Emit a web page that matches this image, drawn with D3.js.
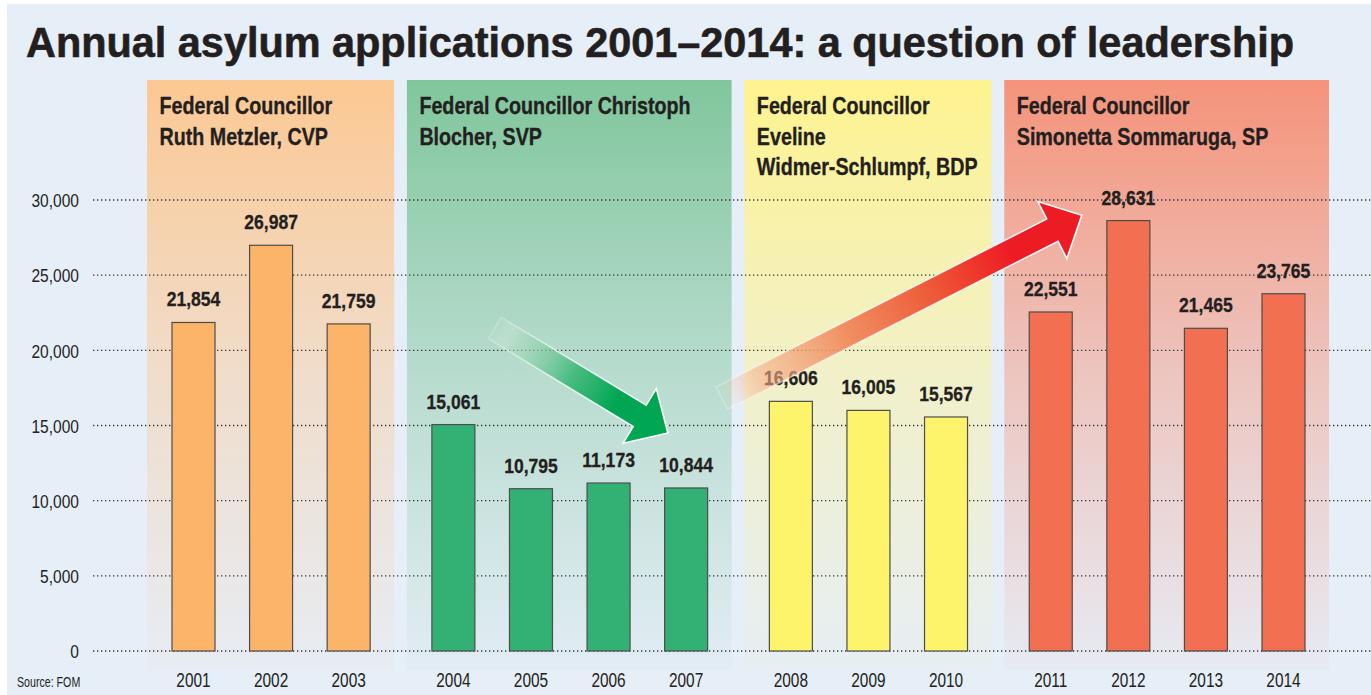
<!DOCTYPE html>
<html>
<head>
<meta charset="utf-8">
<script src="https://cdn.jsdelivr.net/npm/d3@7/dist/d3.min.js"></script>
<style>
  html, body { margin: 0; padding: 0; background: #ffffff; }
  svg { display: block; }
</style>
</head>
<body>
<svg id="chart" width="1371" height="695"></svg>
<script>
// ---------------- data ----------------
const years = ["2001","2002","2003","2004","2005","2006","2007","2008","2009","2010","2011","2012","2013","2014"];
const applications = [21854, 26987, 21759, 15061, 10795, 11173, 10844, 16606, 16005, 15567, 22551, 28631, 21465, 23765];
const yearGroup = [0,0,0,1,1,1,1,2,2,2,3,3,3,3];
const councillorLines = [
  ["Federal Councillor", "Ruth Metzler, CVP"],
  ["Federal Councillor Christoph", "Blocher, SVP"],
  ["Federal Councillor", "Eveline", "Widmer-Schlumpf, BDP"],
  ["Federal Councillor", "Simonetta Sommaruga, SP"]
];
const yTicks = [0, 5000, 10000, 15000, 20000, 25000, 30000];
const titleText = "Annual asylum applications 2001\u20132014: a question of leadership";
const sourceText = "Source: FOM";

// ---------------- styles ----------------
const panelTop = ["#fcc893", "#80c69c", "#fef38f", "#f5937a"];
const barFill  = ["#fbb468", "#33b073", "#fef46b", "#f26f51"];
const bg = "#e6eef8";
const ink = "#231f20";
const font = "'Liberation Sans', Arial, sans-serif";

const svg = d3.select("#chart");
const defs = svg.append("defs");

// squeeze text horizontally to mimic a condensed face
function squeeze(sel, ratio) {
  sel.each(function () {
    const w = this.getComputedTextLength();
    d3.select(this).attr("textLength", w * ratio).attr("lengthAdjust", "spacingAndGlyphs");
  });
}

svg.append("rect").attr("x", 7).attr("y", 4).attr("width", 1364).attr("height", 691).attr("fill", bg);

// scales
const gapUnits = 0.35;
const pos = years.map((yr, i) => i + yearGroup[i] * gapUnits);
const x = d3.scaleLinear().domain([0, 13 + 3 * gapUnits]).range([193.5, 1283.5]);
const y = d3.scaleLinear().domain([0, 30000]).range([651, 200]);
const barW = 43;

// panels
const groups = d3.range(4).map(g => {
  const idx = years.map((d, i) => i).filter(i => yearGroup[i] === g);
  return { g, x0: x(pos[idx[0]]) - barW / 2 - 24, x1: x(pos[idx[idx.length - 1]]) + barW / 2 + 24 };
});

groups.forEach(p => {
  const gr = defs.append("linearGradient").attr("id", "pg" + p.g)
    .attr("x1", 0).attr("y1", 0).attr("x2", 0).attr("y2", 1);
  gr.append("stop").attr("offset", 0).attr("stop-color", panelTop[p.g]).attr("stop-opacity", 1);
  gr.append("stop").attr("offset", 0.5).attr("stop-color", panelTop[p.g]).attr("stop-opacity", 0.45);
  gr.append("stop").attr("offset", 1).attr("stop-color", panelTop[p.g]).attr("stop-opacity", 0.04);
});

svg.append("g").selectAll("rect").data(groups).join("rect")
  .attr("x", d => d.x0 - 1).attr("y", 80)
  .attr("width", d => d.x1 - d.x0 + 1).attr("height", 590)
  .attr("fill", d => `url(#pg${d.g})`);

// panel headings
const head = svg.append("g");
groups.forEach(p => {
  councillorLines[p.g].forEach((line, k) => {
    head.append("text")
      .attr("x", p.x0 + 11.5).attr("y", 114 + k * 30.5)
      .attr("font-family", font).attr("font-weight", "bold").attr("font-size", 24)
      .attr("fill", ink).attr("stroke", ink).attr("stroke-width", 0.35)
      .text(line);
  });
});
squeeze(head.selectAll("text"), 0.82);

// gridlines
svg.append("g").selectAll("line").data(yTicks).join("line")
  .attr("x1", 93).attr("x2", 1371)
  .attr("y1", d => y(d)).attr("y2", d => y(d))
  .attr("stroke", "#333").attr("stroke-width", 1.3)
  .attr("stroke-dasharray", "1.3 2.7");

// y axis labels
const yAxis = d3.axisLeft(y).tickValues(yTicks).tickFormat(d3.format(",")).tickSize(0).tickPadding(0);
const ya = svg.append("g").attr("transform", "translate(79,0)").call(yAxis);
ya.select(".domain").remove();
ya.selectAll("text").attr("font-family", font).attr("font-size", 18.5).attr("fill", ink).attr("dy", "0.36em");
squeeze(ya.selectAll("text"), 0.84);

// bars
svg.append("g").selectAll("rect").data(applications).join("rect")
  .attr("x", (d, i) => x(pos[i]) - barW / 2)
  .attr("y", d => y(d))
  .attr("width", barW)
  .attr("height", d => y(0) - y(d))
  .attr("fill", (d, i) => barFill[yearGroup[i]])
  .attr("stroke", "#4d4d4d").attr("stroke-width", 1.2);

// value labels
const vl = svg.append("g").selectAll("text").data(applications).join("text")
  .attr("x", (d, i) => x(pos[i]))
  .attr("y", d => y(d) - 16)
  .attr("text-anchor", "middle")
  .attr("font-family", font).attr("font-weight", "bold").attr("font-size", 19.5)
  .attr("fill", ink).attr("stroke", ink).attr("stroke-width", 0.3)
  .text(d => d3.format(",")(d));
squeeze(vl, 0.9);

// year labels
const yl = svg.append("g").selectAll("text").data(years).join("text")
  .attr("x", (d, i) => x(pos[i]))
  .attr("y", 687)
  .attr("text-anchor", "middle")
  .attr("font-family", font).attr("font-size", 19.5)
  .attr("fill", ink)
  .text(d => d);
squeeze(yl, 0.79);

// source
const src = svg.append("text").attr("x", 17).attr("y", 687)
  .attr("font-family", font).attr("font-size", 14).attr("fill", ink).text(sourceText);
squeeze(src, 0.76);

// title
svg.append("text").attr("x", 26).attr("y", 57)
  .attr("font-family", font).attr("font-weight", "bold").attr("font-size", 42)
  .attr("fill", ink).attr("stroke", ink).attr("stroke-width", 0.6)
  .attr("textLength", 1268).attr("lengthAdjust", "spacingAndGlyphs")
  .text(titleText);

// arrows (annotations in data space: [position index, value])
function arrow(id, from, to, stops) {
  const x0 = x(from[0]), y0 = y(from[1]), x1 = x(to[0]), y1 = y(to[1]);
  const L = Math.hypot(x1 - x0, y1 - y0);
  const ang = Math.atan2(y1 - y0, x1 - x0) * 180 / Math.PI;
  const w = 12.5, h = 32, hl = 33;
  const gr = defs.append("linearGradient").attr("id", id)
    .attr("gradientUnits", "userSpaceOnUse").attr("x1", 0).attr("y1", 0).attr("x2", L).attr("y2", 0);
  stops.forEach(s => gr.append("stop").attr("offset", s[0]).attr("stop-color", s[1]).attr("stop-opacity", s[2]));
  const grs = defs.append("linearGradient").attr("id", id + "s")
    .attr("gradientUnits", "userSpaceOnUse").attr("x1", 0).attr("y1", 0).attr("x2", L).attr("y2", 0);
  grs.append("stop").attr("offset", 0).attr("stop-color", "#fff").attr("stop-opacity", 0.25);
  grs.append("stop").attr("offset", 0.4).attr("stop-color", "#fff").attr("stop-opacity", 0.75);
  grs.append("stop").attr("offset", 1).attr("stop-color", "#fff").attr("stop-opacity", 1);
  const p = d3.path();
  p.moveTo(0, -w); p.lineTo(L - hl, -w); p.lineTo(L - hl, -h); p.lineTo(L, 0);
  p.lineTo(L - hl, h); p.lineTo(L - hl, w); p.lineTo(0, w); p.closePath();
  svg.append("path").attr("d", p.toString())
    .attr("transform", `translate(${x0},${y0}) rotate(${ang})`)
    .attr("fill", `url(#${id})`).attr("stroke", `url(#${id}s)`).attr("stroke-width", 1.6)
    .attr("stroke-linejoin", "miter");
}

arrow("greenArrow", [3.885, 21480], [6.115, 14500], [
  [0, "#ffffff", 0.0], [0.12, "#b5dcc3", 0.5], [0.45, "#3cb878", 0.9], [0.7, "#00a651", 1], [1, "#00a651", 1]
]);
arrow("redArrow", [6.81, 16820], [11.45, 28990], [
  [0, "#f8c8a8", 0.0], [0.1, "#f5b08a", 0.55], [0.35, "#f08a5c", 0.95], [0.6, "#ee5535", 1], [0.8, "#ed1c24", 1], [1, "#ed1c24", 1]
]);
</script>
</body>
</html>
